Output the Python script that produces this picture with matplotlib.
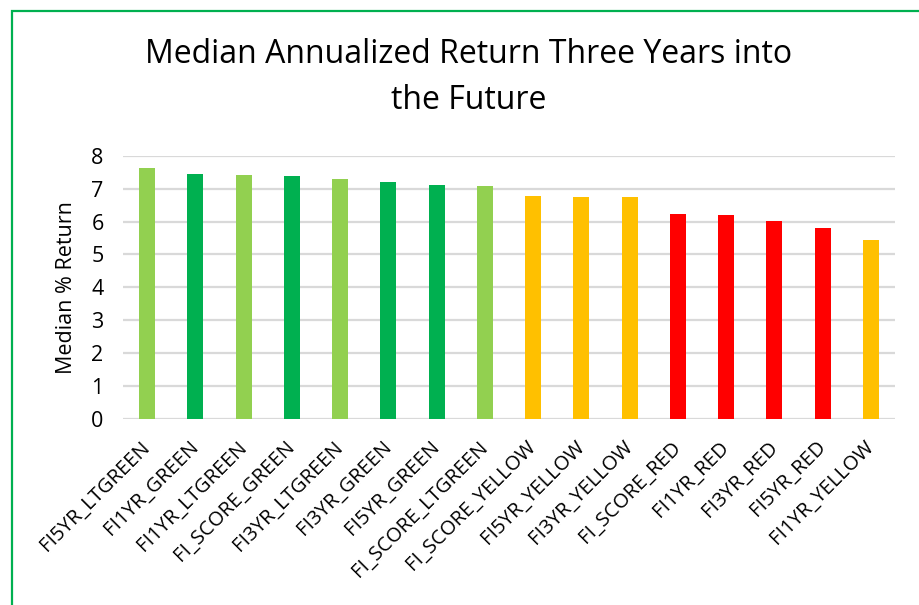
import matplotlib.pyplot as plt
from matplotlib.patches import Rectangle

categories = ['FI5YR_LTGREEN', 'FI1YR_GREEN', 'FI1YR_LTGREEN', 'FI_SCORE_GREEN',
              'FI3YR_LTGREEN', 'FI3YR_GREEN', 'FI5YR_GREEN', 'FI_SCORE_LTGREEN',
              'FI_SCORE_YELLOW', 'FI5YR_YELLOW', 'FI3YR_YELLOW', 'FI_SCORE_RED',
              'FI1YR_RED', 'FI3YR_RED', 'FI5YR_RED', 'FI1YR_YELLOW']
median_return = [7.63, 7.43, 7.40, 7.37, 7.30, 7.21, 7.12, 7.09,
                 6.79, 6.76, 6.76, 6.24, 6.21, 6.03, 5.79, 5.45]
groups = ['ltgreen', 'green', 'ltgreen', 'green', 'ltgreen', 'green', 'green', 'ltgreen',
          'yellow', 'yellow', 'yellow', 'red', 'red', 'red', 'red', 'yellow']

palette = {'ltgreen': '#92D050', 'green': '#00B050', 'yellow': '#FFC000', 'red': '#FF0000'}

plt.rcParams['font.family'] = ['Open Sans', 'DejaVu Sans']

fig = plt.figure(figsize=(9.19, 6.05), dpi=100)
ax = fig.add_axes([0.1338, 0.3074, 0.8402, 0.4352])

x = range(len(categories))
ax.bar(x, median_return, width=0.33, color=[palette[g] for g in groups], zorder=3)

ax.set_xlim(-0.5, len(categories) - 0.5)
ax.set_ylim(0, 8)
ax.set_yticks(range(0, 9))
ax.tick_params(axis='y', labelsize=15.5, length=0, pad=14)
ax.tick_params(axis='x', length=0, pad=18)
ax.set_xticks(list(x))
ax.set_xticklabels(categories, rotation=45, ha='right', va='center',
                   rotation_mode='anchor', fontsize=14.5)
ax.grid(axis='y', color='#D9D9D9', linewidth=1.6, zorder=0)
for s in ax.spines.values():
    s.set_visible(False)

ax.set_ylabel('Median % Return', fontsize=15.5, labelpad=10)

fig.text(0.51, 0.872, 'Median Annualized Return Three Years into\nthe Future',
         ha='center', va='center', fontsize=23, linespacing=1.55)

# green frame around the chart, cut off on right and bottom
fig.patches.append(Rectangle((12 / 919, -0.05), 1.2, 1 - 11 / 605 + 0.05,
                             transform=fig.transFigure, fill=False,
                             edgecolor='#00B050', linewidth=1.6))

fig.savefig('out.png', dpi=100)
